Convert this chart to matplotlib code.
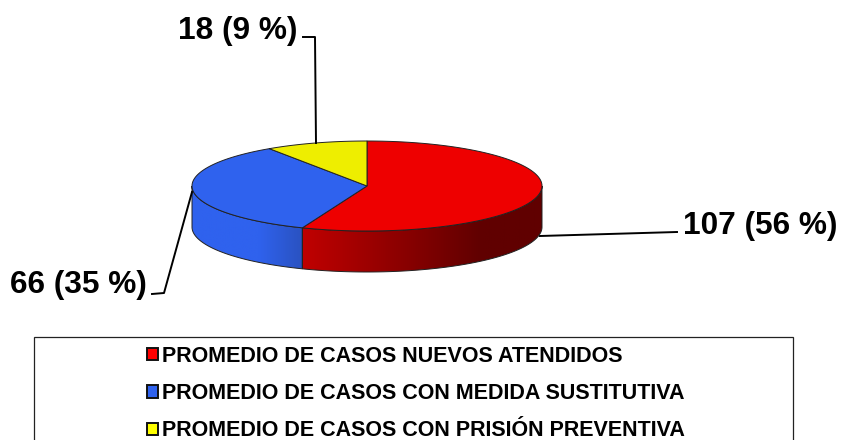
import numpy as np
import matplotlib
matplotlib.use('Agg')
import matplotlib.pyplot as plt
from matplotlib.patches import Polygon, Rectangle, Patch
from matplotlib.colors import LinearSegmentedColormap

# data
categories = ['PROMEDIO DE CASOS NUEVOS ATENDIDOS',
              'PROMEDIO DE CASOS CON MEDIDA SUSTITUTIVA',
              'PROMEDIO DE CASOS CON PRISIÓN PREVENTIVA']
values = [107, 66, 18]
percents = [56, 35, 9]
colors = ['#ee0000', '#2f62ee', '#eeee00']
legend_colors = ['#ff0000', '#2f62ee', '#ffff00']

plt.rcParams['font.family'] = ['Liberation Sans', 'DejaVu Sans']

CX, CY, RX, RY, DEPTH = 367, 186, 175, 45, 41

side_cmaps = [
    LinearSegmentedColormap.from_list('r', [(0, '#c00000'), (0.75, '#600000'), (1, '#600000')]),
    LinearSegmentedColormap.from_list('b', [(0, '#2f62ee'), (0.6, '#2f62ee'), (1, '#2a52c0')]),
]


def rim(a0, a1, dy=0, n=120):
    # a0, a1 in degrees clockwise from 12 o'clock
    t = np.radians(np.linspace(a0, a1, n))
    return np.column_stack([CX + RX * np.sin(t), CY - RY * np.cos(t) + dy])


fig = plt.figure(figsize=(8.41, 4.40), dpi=100)
ax = fig.add_axes([0, 0, 1, 1])
ax.set_xlim(0, 841)
ax.set_ylim(440, 0)
ax.axis('off')

edges = np.concatenate([[0], np.cumsum(values) / np.sum(values) * 360])

# side wall, front half only: gradient image clipped to the wall shape
for i, (a0, a1) in enumerate(zip(edges[:-1], edges[1:])):
    lo, hi = max(a0, 90), min(a1, 270)
    if lo >= hi:
        continue
    outline = np.vstack([rim(lo, hi, 0), rim(hi, lo, DEPTH)])
    x0, x1 = outline[:, 0].min(), outline[:, 0].max()
    y0, y1 = outline[:, 1].min(), outline[:, 1].max()
    im = ax.imshow(np.linspace(0, 1, 256).reshape(1, -1), cmap=side_cmaps[i],
                   extent=[x0, x1, y1, y0], aspect='auto', zorder=2)
    wall = Polygon(outline, closed=True, fc='none', ec='#222222', lw=0.7, zorder=3)
    ax.add_patch(wall)
    im.set_clip_path(wall)
ax.set_xlim(0, 841)
ax.set_ylim(440, 0)

# top face
for i, (a0, a1) in enumerate(zip(edges[:-1], edges[1:])):
    pts = np.vstack([[CX, CY], rim(a0, a1)])
    ax.add_patch(Polygon(pts, closed=True, fc=colors[i], ec='#222222', lw=0.7, zorder=4))

# leader lines
ax.plot([303, 315, 316], [37, 37, 143], color='black', lw=1.4, zorder=5)
ax.plot([540, 677], [236, 232], color='black', lw=1.4, zorder=1)
ax.plot([152, 164, 192], [294, 293, 192], color='black', lw=1.4, zorder=5)

# data labels
label_pos = [(683, 226, 'left'), (147, 285, 'right'), (298, 31, 'right')]
for v, p, (x, y, ha) in zip(values, percents, label_pos):
    ax.text(x, y, f'{v} ({p} %)', fontsize=22.8, fontweight='bold', ha=ha, va='center',
            color='black')

# legend box runs off the bottom of the picture
ax.add_patch(Rectangle((34, 337), 759, 120, fc='white', ec='#222222', lw=0.9, zorder=1))
handles = [Patch(fc=c, ec='#111111', lw=1.4) for c in legend_colors]
ax.legend(handles, categories, loc='upper left', bbox_to_anchor=(147 / 841, 1 - 346 / 440),
          frameon=False, prop={'size': 15.5, 'weight': 'bold'}, handlelength=0.5,
          handleheight=0.5, handletextpad=0.2, labelspacing=0.75, borderpad=0,
          borderaxespad=0)

fig.savefig('out.png', dpi=100)
